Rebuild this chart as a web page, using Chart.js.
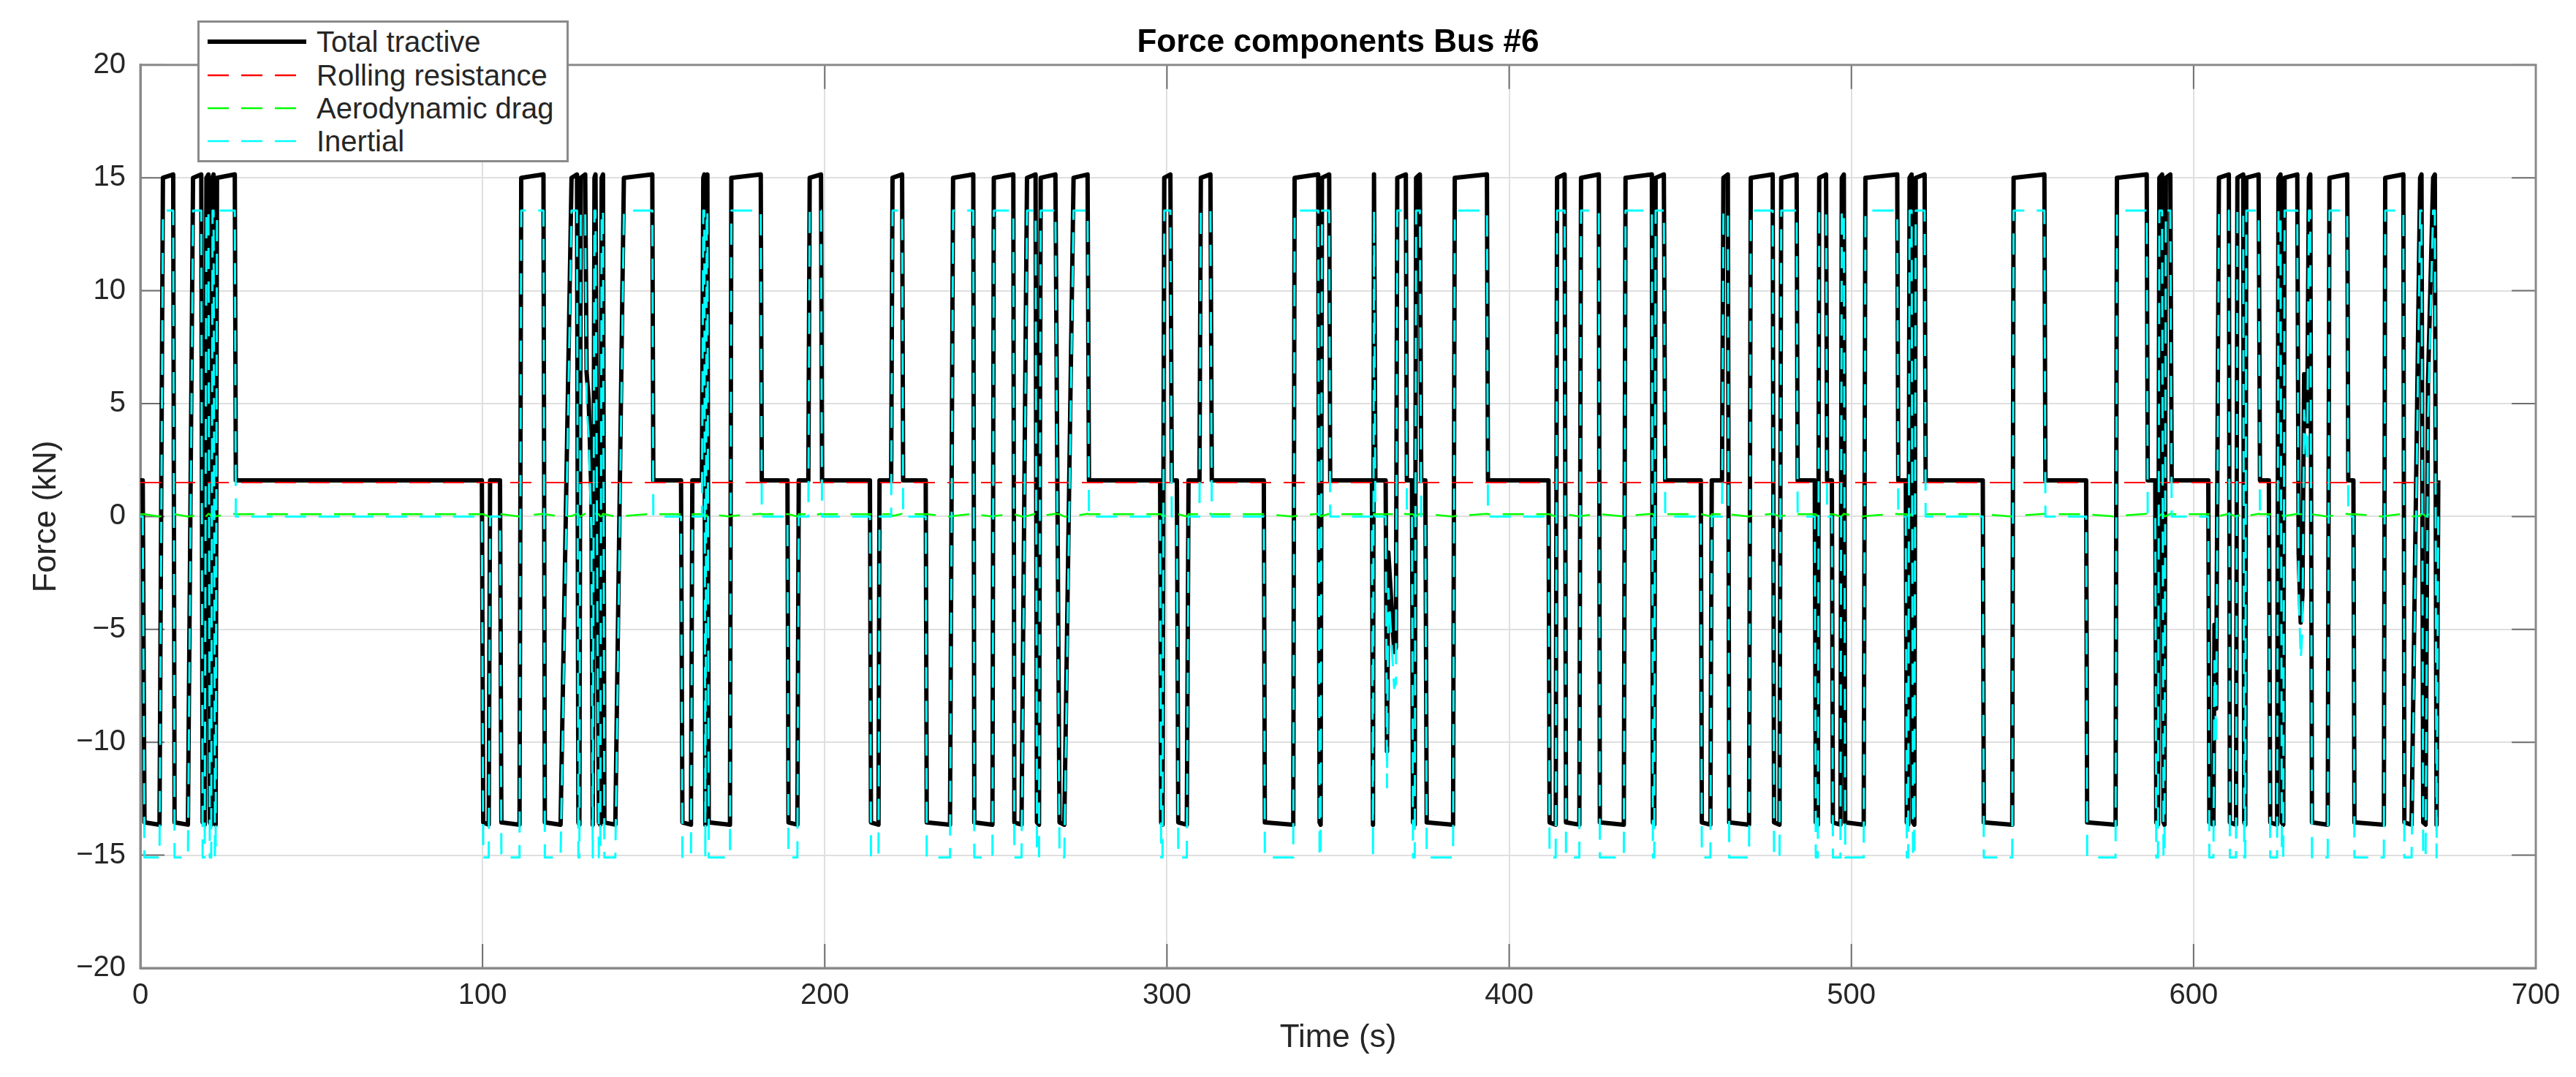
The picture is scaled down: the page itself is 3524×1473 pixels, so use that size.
<!DOCTYPE html>
<html lang="en">
<head>
    <meta charset="UTF-8">
    <title>Force components Bus #6</title>
    <script src="https://cdn.jsdelivr.net/npm/chart.js"></script>
    <style>
        html, body { margin: 0; padding: 0; background: #fff; }
        #wrap { position: relative; width: 3524px; height: 1473px; }
        #grafico { position: absolute; left: 0; top: 0; }
        #leyenda { position: absolute; left: 270px; top: 28px; width: 508px; height: 194px; box-sizing: border-box;
                   border: 3px solid #8a8a8a; background: #fff;
                   font-family: "Liberation Sans", Arial, Helvetica, sans-serif; font-size: 40px; color: #262626; }
        .item { position: absolute; left: 0; width: 100%; height: 48px; line-height: 48px; white-space: nowrap; }
        .item svg { position: absolute; left: 11px; top: 19px; }
        .item span { position: absolute; left: 160px; }
    </style>
</head>
<body>
<div id="wrap">
    <canvas id="grafico" width="3524" height="1473"></canvas>
    <div id="leyenda"></div>
</div>
<script>
    // Series in legend order
    const seriesNames  = ["Total tractive", "Rolling resistance", "Aerodynamic drag", "Inertial"];
    const seriesColors = ["#000000", "#ff0000", "#00ff00", "#00ffff"];

    // Axis ticks
    const xTicks = [0, 100, 200, 300, 400, 500, 600, 700];
    const yTicks = [-20, -15, -10, -5, 0, 5, 10, 15, 20];

    // Force level (kN) of each series per driving state
    // a/A = start/end of acceleration, C = cruise, b/B = start/end of braking
    const totalLevel    = { a: 15.0,  A: 15.15, C: 1.6, b: -13.55, B: -13.65 };
    const inertialLevel = { a: 13.55, A: 13.55, C: 0.0, b: -15.1,  B: -15.1 };
    const aeroLevel     = { a: 0.02,  A: 0.12,  C: 0.1, b: 0.1,    B: 0.0 };
    const rollingLevel  = 1.5;
    const wiggleAero    = 0.1;

    // Time (s) and state of each breakpoint; [t, total, inertial] where the curve is irregular
    const knots = [
        [0,"C"],[0.7,"C"],[1.2,"b"],[5.6,"B"],[6.6,"a"],[9.6,"A"],[10.0,"b"],[13.9,"B"],
        [15.4,"a"],[17.8,"A"],[18.2,"b"],[18.8,"B"],[19.3,"a"],[19.9,"A"],[20.3,"b"],[20.7,"B"],
        [21.1,"a"],[21.4,"A"],[21.8,"b"],[22.0,"B"],[22.4,"a"],[27.6,"A"],[27.9,"C"],[99.8,"C"],
        [100.2,"b"],[101.8,"B"],[102.2,"C"],[105.1,"C"],[105.5,"b"],[110.8,"B"],[111.3,"a"],[117.8,"A"],
        [118.2,"b"],[122.8,"B"],[126.0,"a"],[127.6,"A"],[128.0,"b"],[128.3,"B"],[128.7,"a"],[130.0,"A"],
        [130.4,6.4,4.9],[131.0,5.2,3.6],[131.8,1.0,-0.6],[132.2,"B"],[132.7,"a"],[133.0,"A"],
        [133.6,-4.0,-5.6],[134.0,"b"],[134.4,"B"],[134.8,"a"],[135.2,"A"],[135.6,"b"],[138.8,"B"],
        [141.3,"a"],[149.6,"A"],[149.9,"C"],[158.0,"C"],[158.4,"b"],[160.9,"B"],[161.3,"C"],[164.1,"C"],
        [164.5,"a"],[164.8,"A"],[165.1,"B"],[165.5,"a"],[165.7,"A"],[166.1,"b"],[172.3,"B"],
        [172.7,"a"],[181.3,"A"],[181.6,"C"],[189.1,"C"],[189.4,"b"],[192.0,"B"],[192.4,"C"],[195.2,"C"],
        [195.6,"a"],[198.9,"A"],[199.2,"C"],[213.2,"C"],[213.5,"b"],[215.7,"B"],[216.0,"C"],[219.4,"C"],
        [219.8,"a"],[222.6,"A"],[222.9,"C"],[229.5,"C"],[229.8,"b"],[236.6,"B"],[237.5,"a"],[243.4,"A"],
        [243.7,"b"],[249.0,"B"],[249.4,"a"],[255.1,"A"],[255.4,"b"],[257.5,"B"],[259.1,"a"],[261.6,"A"],
        [262.0,"b"],[262.6,"B"],[263.1,"a"],[267.4,"A"],[268.6,"b"],[270.0,"B"],[272.7,"a"],[276.8,"A"],
        [277.2,"C"],[298.0,"C"],[298.3,"b"],[298.7,"B"],[299.2,"a"],[301.0,"A"],[301.4,"C"],[302.9,"C"],
        [303.3,"b"],[305.8,"B"],[306.3,"C"],[309.5,"C"],[309.9,"a"],[312.7,"A"],[313.1,"C"],[328.3,"C"],
        [328.6,"b"],[336.9,"B"],[337.3,"a"],[344.2,"A"],[344.6,"b"],[344.9,"B"],[345.3,"a"],[347.4,"A"],
        [347.7,"C"],[359.9,"C"],[360.2,"B"],[360.5,"A"],[360.9,"C"],[363.9,"C"],
        [364.3,-10.4,-12.0],[364.7,-1.6,-3.2],[366.4,-6.0,-7.6],[366.9,-5.8,-7.4],
        [367.3,"a"],[369.8,"A"],[370.1,"C"],[371.6,"C"],[371.9,"b"],[372.4,"B"],[372.8,"a"],[373.9,"A"],
        [374.3,"C"],[375.5,"C"],[375.9,"b"],[383.6,"B"],[384.1,"a"],[393.5,"A"],[393.8,"C"],[411.5,"C"],
        [411.8,"b"],[413.6,"B"],[414.0,"a"],[416.2,"A"],[416.6,"b"],[420.5,"B"],[421.0,"a"],[426.2,"A"],
        [426.5,"b"],[433.5,"B"],[434.0,"a"],[441.7,"A"],[442.0,"b"],[442.4,"B"],[442.8,"a"],[445.2,"A"],
        [445.6,"C"],[456.0,"C"],[456.3,"b"],[458.8,"B"],[459.2,"C"],[462.2,"C"],[462.6,"a"],[463.9,"A"],
        [464.3,"b"],[470.1,"B"],[470.6,"a"],[477.0,"A"],[477.4,"b"],[479.0,"B"],[479.5,"a"],[484.0,"A"],
        [484.3,"C"],[489.3,"C"],[489.6,"b"],[490.2,"B"],[490.6,"a"],[492.6,"A"],[492.9,"C"],[494.3,"C"],
        [494.6,"b"],[496.8,"B"],[497.2,"a"],[497.8,"A"],[498.2,"b"],[503.6,"B"],[504.1,"a"],[513.4,"A"],
        [513.7,"C"],[515.9,"C"],[516.2,"b"],[516.6,"B"],[517.0,"a"],[517.6,"A"],[518.0,"b"],[518.4,"B"],
        [518.8,"a"],[521.4,"A"],[521.7,"C"],[538.4,"C"],[538.7,"b"],[547.0,"B"],[547.4,"a"],[556.4,"A"],
        [556.7,"C"],[568.6,"C"],[568.9,"b"],[577.2,"B"],[577.6,"a"],[586.3,"A"],[586.6,"C"],[588.8,"C"],
        [589.1,"b"],[589.6,"B"],[590.0,"a"],[590.8,"A"],[591.2,"b"],[591.5,"B"],[591.9,"a"],[593.2,"A"],
        [593.6,"C"],[604.3,"C"],[604.6,"b"],[605.8,"B"],[606.1,-4.8,-6.4],[606.6,-8.5,-10.1],
        [607.4,"a"],[610.3,"A"],[610.6,"b"],[612.4,"B"],[612.8,"a"],[614.5,"A"],[614.8,"b"],[615.1,"B"],
        [615.4,"a"],[619.0,"A"],[619.4,"C"],[622.0,"C"],[622.4,"b"],[624.4,"B"],[624.8,"a"],[625.4,"A"],
        [625.8,"b"],[626.2,"B"],[626.6,"a"],[630.3,"A"],
        [630.7,-1.6,-3.2],[631.3,-4.7,-6.3],[631.8,-3.5,-5.1],[632.3,6.3,4.7],[633.2,4.0,2.4],
        [633.7,"a"],[634.1,"A"],[634.6,"b"],[639.2,"B"],[639.7,"a"],[644.9,"A"],[645.2,"C"],[646.7,"C"],
        [647.0,"b"],[655.6,"B"],[656.0,"a"],[661.3,"A"],[661.6,"b"],[663.7,"B"],[666.2,"a"],[666.6,"A"],
        [667.1,"b"],[667.8,"B"],[668.5,5.9,4.3],[670.0,"a"],[670.5,"A"],[671.0,"B"],[671.5,"C"]
    ];

    const fuente = "'Liberation Sans', Arial, Helvetica, sans-serif";

    // Turn the breakpoints into {x, y} points for each series
    function serie(levels, irregular) {
        return knots.map(k => {
            let y = typeof k[1] === "number" ? irregular(k) : levels[k[1]];
            return { x: k[0], y: y };
        });
    }
    let totalData    = serie(totalLevel, k => k[1]);
    let inertialData = serie(inertialLevel, k => k[2]);
    let aeroData     = serie(aeroLevel, k => wiggleAero);
    let rollingData  = knots.map(k => ({ x: k[0], y: rollingLevel }));

    function formatTick(v) {
        return v < 0 ? "\u2212" + Math.abs(v) : String(v);
    }

    // Box round the axes and MATLAB style inward ticks
    const marco = {
        id: "marco",
        beforeDatasetsDraw(chart) {
            let ctx = chart.ctx;
            let a = chart.chartArea;
            let x = chart.scales.x, y = chart.scales.y;
            ctx.save();
            ctx.strokeStyle = "#6e6e6e";
            ctx.lineWidth = 2;
            ctx.beginPath();
            xTicks.forEach(v => {
                let px = x.getPixelForValue(v);
                ctx.moveTo(px, a.bottom); ctx.lineTo(px, a.bottom - 33);
                ctx.moveTo(px, a.top);    ctx.lineTo(px, a.top + 33);
            });
            yTicks.forEach(v => {
                let py = y.getPixelForValue(v);
                ctx.moveTo(a.left, py);  ctx.lineTo(a.left + 33, py);
                ctx.moveTo(a.right, py); ctx.lineTo(a.right - 33, py);
            });
            ctx.stroke();
            ctx.strokeStyle = "#8a8a8a";
            ctx.lineWidth = 3;
            ctx.strokeRect(a.left, a.top, a.right - a.left, a.bottom - a.top);
            ctx.restore();
        }
    };

    let ctx = document.getElementById("grafico").getContext("2d");
    let chart = new Chart(ctx, {
        type: "line",
        data: {
            datasets: [
                { label: seriesNames[0], data: totalData, borderColor: seriesColors[0], borderWidth: 6, order: 4 },
                { label: seriesNames[1], data: rollingData, borderColor: seriesColors[1], borderWidth: 2, borderDash: [29, 17], order: 3 },
                { label: seriesNames[2], data: aeroData, borderColor: seriesColors[2], borderWidth: 2.5, borderDash: [29, 17], order: 2 },
                { label: seriesNames[3], data: inertialData, borderColor: seriesColors[3], borderWidth: 3, borderDash: [29, 17], order: 1 }
            ]
        },
        options: {
            responsive: false,
            animation: false,
            devicePixelRatio: 1,
            elements: {
                point: { radius: 0 },
                line: { tension: 0, fill: false, borderJoinStyle: "round", borderCapStyle: "butt" }
            },
            layout: { padding: { left: 0, right: 55, top: 0, bottom: 0 } },
            plugins: {
                legend: { display: false },
                tooltip: { enabled: false },
                title: {
                    display: true,
                    text: "Force components Bus #6",
                    fullSize: false,
                    color: "#000",
                    font: { family: fuente, size: 44, weight: "bold", lineHeight: 1.2 },
                    padding: { top: 32, bottom: 4 }
                }
            },
            scales: {
                x: {
                    type: "linear",
                    min: 0, max: 700,
                    afterFit: s => { s.height = 149; },
                    afterBuildTicks: s => { s.ticks = xTicks.map(v => ({ value: v })); },
                    ticks: { color: "#262626", font: { family: fuente, size: 40 }, padding: 14, maxRotation: 0, callback: formatTick },
                    grid: { color: "#dfdfdf", lineWidth: 2, drawTicks: false },
                    border: { color: "#8a8a8a", width: 3 },
                    title: { display: true, text: "Time (s)", color: "#262626",
                             font: { family: fuente, size: 44, lineHeight: 1.2 }, padding: { top: 0, bottom: 27 } }
                },
                y: {
                    type: "linear",
                    min: -20, max: 20,
                    afterFit: s => { s.width = 192; },
                    afterBuildTicks: s => { s.ticks = yTicks.map(v => ({ value: v })); },
                    ticks: { color: "#262626", font: { family: fuente, size: 40 }, padding: 20, callback: formatTick },
                    grid: { color: "#dfdfdf", lineWidth: 2, drawTicks: false },
                    border: { color: "#8a8a8a", width: 3 },
                    title: { display: true, text: "Force (kN)", color: "#262626",
                             font: { family: fuente, size: 44, lineHeight: 1.2 }, padding: { top: 37, bottom: 0 } }
                }
            }
        },
        plugins: [marco]
    });

    // Legend box drawn over the top left corner of the axes
    let leyenda = document.getElementById("leyenda");
    seriesNames.forEach((name, i) => {
        let div = document.createElement("div");
        div.className = "item";
        div.style.top = [2, 48, 93, 138][i] + "px";
        let dash = i === 0 ? "" : ' stroke-dasharray="29 17"';
        let width = i === 0 ? 6 : 2.5;
        div.innerHTML = '<svg width="135" height="10"><line x1="0" y1="5" x2="135" y2="5" stroke="' + seriesColors[i] +
                        '" stroke-width="' + width + '"' + dash + '/></svg><span>' + name + '</span>';
        leyenda.appendChild(div);
    });
</script>
</body>
</html>
